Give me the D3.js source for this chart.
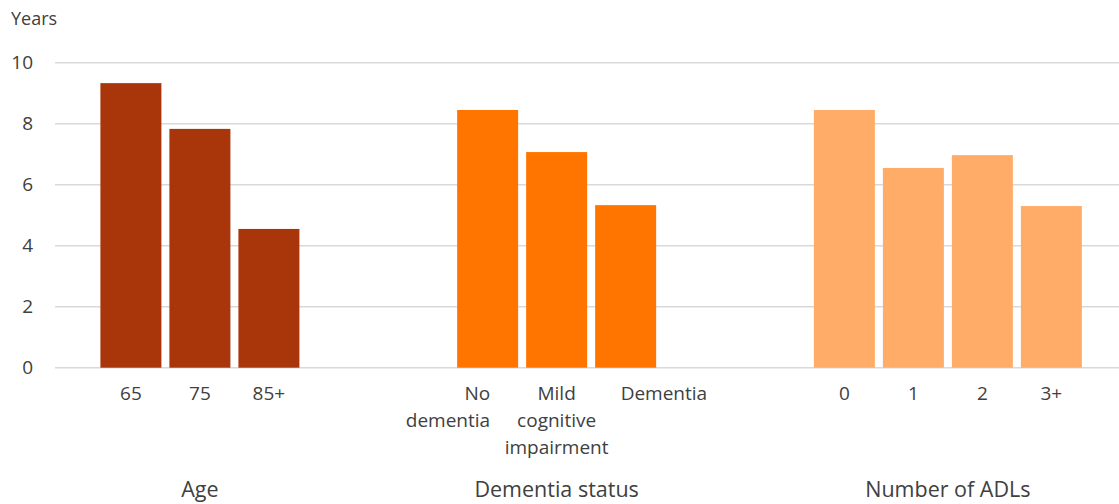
<!DOCTYPE html>
<html>
<head>
<meta charset="utf-8">
<script src="https://cdn.jsdelivr.net/npm/d3@7/dist/d3.min.js"></script>
<style>
  html, body { margin: 0; padding: 0; background: #fff; }
  svg { display: block; font-family: "Open Sans", sans-serif; }
</style>
</head>
<body>
<svg id="chart" width="1119" height="504"></svg>
<script>
// Remaining life expectancy (years) by group
const groups = ["Age", "Dementia status", "Number of ADLs"];
const ageCategories = ["65", "75", "85+"];
const ageValues = [9.33, 7.83, 4.55];
const dementiaCategories = ["No dementia", "Mild cognitive impairment", "Dementia"];
const dementiaValues = [8.45, 7.07, 5.33];
const adlCategories = ["0", "1", "2", "3+"];
const adlValues = [8.45, 6.55, 6.97, 5.30];
const yTicks = [0, 2, 4, 6, 8, 10];
const yTitle = "Years";

// Wrapped tick labels (lines) for the longer categories
const labelLines = {
  "No dementia": ["No", "dementia"],
  "Mild cognitive impairment": ["Mild", "cognitive", "impairment"]
};

const colors = ["#A9350A", "#FF7500", "#FFAC69"];
const textColor = "#404040";
const gridColor = "#d9d9d9";

const series = [
  { group: groups[0], cats: ageCategories, vals: ageValues },
  { group: groups[1], cats: dementiaCategories, vals: dementiaValues },
  { group: groups[2], cats: adlCategories, vals: adlValues }
];

// Slot positions: one unit per category, with an extra gap between groups
const GAP = 2.17;
const rows = [];
let idx = 0;
series.forEach((s, gi) => {
  s.cats.forEach((c, ci) => {
    rows.push({ group: s.group, gi, cat: c, value: s.vals[ci], pos: idx + gi * GAP });
    idx++;
  });
});

const svg = d3.select("#chart");
const plotLeft = 55, plotRight = 1119;

const x = d3.scaleLinear().domain([-0.6, 14.82]).range([plotLeft, plotRight]);
const y = d3.scaleLinear().domain([0, 10]).range([367.7, 62.7]);
const slot = x(1) - x(0);
const barW = slot * 0.884;

// Horizontal gridlines
svg.append("g").selectAll("line").data(yTicks).join("line")
  .attr("x1", plotLeft).attr("x2", plotRight)
  .attr("y1", d => y(d)).attr("y2", d => y(d))
  .attr("stroke", gridColor).attr("stroke-width", 1.4);

// Y axis labels
const yAxis = d3.axisLeft(y).tickValues(yTicks).tickSize(0).tickPadding(0);
const yg = svg.append("g").attr("transform", `translate(33,0)`).call(yAxis);
yg.select(".domain").remove();
yg.selectAll("text")
  .attr("fill", textColor)
  .style("font-size", "19px")
  .style("font-family", "'Open Sans', sans-serif");

svg.append("text")
  .attr("x", 11).attr("y", 25)
  .attr("fill", textColor)
  .style("font-size", "18px")
  .text(yTitle);

// Bars
svg.append("g").selectAll("rect").data(rows).join("rect")
  .attr("x", d => x(d.pos) + (slot - barW) / 2)
  .attr("width", barW)
  .attr("y", d => y(d.value))
  .attr("height", d => y(0) - y(d.value))
  .attr("fill", d => colors[d.gi]);

// Category labels
const anchorFor = { "No dementia": "end", "Dementia": "start" };
const shiftFor = { "No dementia": 2.5, "Dementia": -5 };
const catG = svg.append("g")
  .attr("fill", textColor)
  .style("font-size", "19px");
rows.forEach(d => {
  const cx = x(d.pos) + slot / 2 + (shiftFor[d.cat] || 0);
  const lines = labelLines[d.cat] || [d.cat];
  const t = catG.append("text")
    .attr("text-anchor", anchorFor[d.cat] || "middle");
  lines.forEach((ln, i) => {
    t.append("tspan").attr("x", cx).attr("y", 400 + i * 27).text(ln);
  });
});

// Group labels, centred under each group of bars
const groupG = svg.append("g")
  .attr("fill", textColor)
  .style("font-size", "21.5px");
series.forEach((s, gi) => {
  const gRows = rows.filter(r => r.gi === gi);
  const first = gRows[0], last = gRows[gRows.length - 1];
  const cx = (x(first.pos) + x(last.pos) + slot) / 2;
  groupG.append("text")
    .attr("x", cx).attr("y", 497)
    .attr("text-anchor", "middle")
    .text(s.group);
});
</script>
</body>
</html>
